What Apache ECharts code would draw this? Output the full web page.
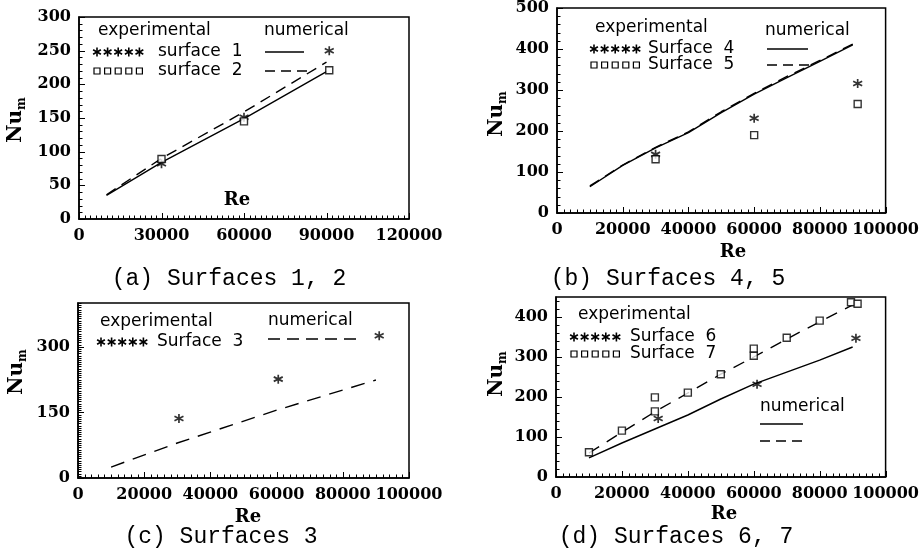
<!DOCTYPE html>
<html><head><meta charset="utf-8">
<script src="https://cdn.jsdelivr.net/npm/echarts@6/dist/echarts.min.js"></script>
<style>html,body{margin:0;padding:0;background:#fff}#c{width:922px;height:558px}</style>
</head><body><div id="c"></div>
<script>
// ---------- Panel (a): Surfaces 1, 2 ----------
const reA_exp = [30000, 60000, 91000];
const nuA_s1_exp = [82, 151, 250];
const nuA_s2_exp = [89, 145, 221];
const reA_num = [10000, 30000, 60000, 90000];
const nuA_s1_num = [35, 84, 149, 219];
const nuA_s2_num = [36, 90, 159, 233];
// ---------- Panel (b): Surfaces 4, 5 ----------
const reB_exp = [30000, 60000, 91500];
const nuB_s4_exp = [143, 231, 316];
const nuB_s5_exp = [131, 190, 266];
const reB_num = [10000, 20000, 30000, 40000, 50000, 60000, 70000, 80000, 90000];
const nuB_s4_num = [64, 116, 159, 196, 245, 290, 330, 370, 410];
const nuB_s5_num = [66, 117, 160, 198, 247, 292, 333, 372, 412];
// ---------- Panel (c): Surface 3 ----------
const reC_exp = [30500, 60500, 91000];
const nuC_s3_exp = [136, 226, 325];
const reC_num = [10000, 30000, 60000, 90000];
const nuC_s3_num = [25, 80, 155, 224];
// ---------- Panel (d): Surfaces 6, 7 ----------
const reD_s6_exp = [31000, 61000, 91000];
const nuD_s6_exp = [146, 232, 347];
const reD_s7_exp = [10000, 20000, 30000, 30000, 40000, 50000, 60000, 60000, 70000, 80000, 89500, 91500];
const nuD_s7_exp = [62, 116, 199, 164, 211, 257, 321, 303, 348, 391, 437, 433];
const reD_num = [10000, 20000, 30000, 40000, 50000, 60000, 70000, 80000, 90000];
const nuD_s6_num = [48, 85, 120, 155, 195, 232, 262, 292, 325];
const nuD_s7_num = [60, 112, 163, 210, 257, 300, 345, 388, 430];
// ---------- axis scales ----------
const xMax = [120000, 100000, 100000, 100000];
const xStep = [30000, 20000, 20000, 20000];
const xMinor = [15, 10, 10, 10];
const yMax = [300, 500, 400, 450];
const yStep = [50, 100, 150, 100];
const yMinor = [5, 5, 30, 5];
// ---------- texts ----------
const captions = ['(a) Surfaces 1, 2', '(b) Surfaces 4, 5', '(c) Surfaces 3', '(d) Surfaces 6, 7'];
const expHeader = 'experimental';
const numHeader = 'numerical';
const xName = 'Re';

const zip = (xs, ys) => xs.map((x, i) => [x, ys[i]]);
const STAR = 'path://M5,0L5,10M0.67,2.5L9.33,7.5M0.67,7.5L9.33,2.5';
const SERIF = 'DejaVu Serif';
const SANS = 'DejaVu Sans';

const grids = [
  {left: 79, top: 17, width: 330, height: 202},
  {left: 557, top: 7, width: 330, height: 206},
  {left: 78, top: 303, width: 331, height: 175},
  {left: 556, top: 297, width: 330, height: 180}
].map(g => Object.assign({show: true, borderColor: '#000', borderWidth: 1.5}, g));

const axisCommon = () => ({
  type: 'value', min: 0,
  axisLine: {show: true, lineStyle: {color: '#000', width: 1.5}},
  axisTick: {show: false}, minorTick: {show: false},
  splitLine: {show: false},
  axisLabel: {color: '#000', fontFamily: SERIF, fontWeight: 'bold', fontSize: 16, margin: 9,
    hideOverlap: false, formatter: v => String(v)}
});
const xAxes = [0, 1, 2, 3].map(i => Object.assign(axisCommon(), {gridIndex: i, max: xMax[i], interval: xStep[i]}));
const yAxes = [0, 1, 2, 3].map(i => {
  const a = Object.assign(axisCommon(), {gridIndex: i, max: yMax[i], interval: yStep[i]});
  a.axisLabel = Object.assign({}, a.axisLabel, {showMaxLabel: yMax[i] % yStep[i] === 0, margin: 8});
  return a;
});

const lineS = (i, xs, ys, dash) => ({
  type: 'line', xAxisIndex: i, yAxisIndex: i, data: zip(xs, ys), showSymbol: false, smooth: false,
  lineStyle: {color: '#000', width: 1.4, type: dash ? dash : 'solid'}, z: 3
});
const starS = (i, xs, ys) => ({
  type: 'scatter', xAxisIndex: i, yAxisIndex: i, data: zip(xs, ys), symbol: STAR, symbolSize: 9,
  itemStyle: {color: 'none', borderColor: '#000', borderWidth: 1.7}, z: 4
});
const sqS = (i, xs, ys) => ({
  type: 'scatter', xAxisIndex: i, yAxisIndex: i, data: zip(xs, ys), symbol: 'rect', symbolSize: 7,
  itemStyle: {color: '#fff', borderColor: '#000', borderWidth: 1.4}, z: 5
});

const series = [
  lineS(0, reA_num, nuA_s1_num), lineS(0, reA_num, nuA_s2_num, [11, 7]),
  starS(0, reA_exp, nuA_s1_exp), sqS(0, reA_exp, nuA_s2_exp),
  lineS(1, reB_num, nuB_s4_num), lineS(1, reB_num, nuB_s5_num, [11, 7]),
  starS(1, reB_exp, nuB_s4_exp), sqS(1, reB_exp, nuB_s5_exp),
  lineS(2, reC_num, nuC_s3_num, [14, 9]), starS(2, reC_exp, nuC_s3_exp),
  lineS(3, reD_num, nuD_s6_num), lineS(3, reD_num, nuD_s7_num, [12, 9]),
  starS(3, reD_s6_exp, nuD_s6_exp), sqS(3, reD_s7_exp, nuD_s7_exp)
];

// ---------- graphic (legends, axis names, captions) ----------
const G = [];
const txt = (text, x, y, o) => G.push({type: 'text', x: x, y: y, silent: true, style: Object.assign({
  text: text, fill: '#000', fontFamily: SANS, fontSize: 17, align: 'left', verticalAlign: 'middle'}, o || {})});
const hline = (x1, x2, y, dash) => G.push({type: 'line', silent: true, shape: {x1: x1, y1: y, x2: x2, y2: y},
  style: {stroke: '#000', lineWidth: 1.4, lineDash: dash || null}});
const starRow = (x0, y) => { for (let k = 0; k < 5; k++) { const cx = x0 + k * 10.6, r = 4.5;
  [[0, -r, 0, r], [-r * 0.87, -r / 2, r * 0.87, r / 2], [-r * 0.87, r / 2, r * 0.87, -r / 2]].forEach(s =>
    G.push({type: 'line', silent: true, shape: {x1: cx + s[0], y1: y + s[1], x2: cx + s[2], y2: y + s[3]}, style: {stroke: '#000', lineWidth: 1.6}}));
}};
const sqRow = (x0, y) => { for (let k = 0; k < 5; k++) G.push({type: 'rect', silent: true,
  shape: {x: x0 + k * 10.6 - 3, y: y - 3, width: 6, height: 6}, style: {fill: 'none', stroke: '#000', lineWidth: 1.2}}); };
const nuName = (x, y) => G.push({type: 'text', x: x, y: y, rotation: Math.PI / 2, silent: true, style: {
  text: '{n|Nu}{s|m}', align: 'center', verticalAlign: 'middle', fill: '#000',
  rich: {n: {fontFamily: SERIF, fontWeight: 'bold', fontSize: 20, lineHeight: 24, verticalAlign: 'middle'},
         s: {fontFamily: SERIF, fontWeight: 'bold', fontSize: 12, lineHeight: 24, verticalAlign: 'bottom'}}}});
const reName = (x, y) => txt(xName, x, y, {fontFamily: SERIF, fontWeight: 'bold', fontSize: 18, align: 'center'});
const cap = (t, x, y) => txt(t, x, y, {fontFamily: 'Liberation Mono', fontSize: 23, align: 'center'});

// (a)
txt(expHeader, 98, 31); txt(numHeader, 264, 31);
starRow(97, 52); txt('surface  1', 158, 52); hline(265, 304, 52);
sqRow(97, 71); txt('surface  2', 158, 71); hline(265, 313, 71, [10, 6]);
reName(237, 200); nuName(16, 120); cap(captions[0], 229, 279);
// (b)
txt(expHeader, 595, 28); txt(numHeader, 765, 31);
starRow(594, 49); txt('Surface  4', 648, 49); hline(767, 808, 49);
sqRow(594, 65); txt('Surface  5', 648, 65); hline(767, 812, 65, [10, 6]);
reName(733, 252); nuName(497, 114); cap(captions[1], 668, 279);
// (c)
txt(expHeader, 100, 322); txt(numHeader, 268, 321);
starRow(101, 342); txt('Surface  3', 157, 342); hline(268, 357, 339, [12, 7]);
reName(248, 517); nuName(17, 372); cap(captions[2], 221, 537);
// (d)
txt(expHeader, 578, 315);
starRow(574, 337); txt('Surface  6', 630, 337);
sqRow(574, 354); txt('Surface  7', 630, 354);
txt(numHeader, 760, 407); hline(760, 803, 424); hline(760, 803, 441, [10, 6]);
reName(724, 514); nuName(497, 374); cap(captions[3], 676, 537);

const chart = echarts.init(document.getElementById('c'), null, {renderer: 'canvas'});
chart.setOption({
  animation: false, backgroundColor: '#fff',
  grid: grids, xAxis: xAxes, yAxis: yAxes, series: series, graphic: G
});

// inward major/minor tick marks, positioned through each grid's axis scales
const T = [];
[0, 1, 2, 3].forEach(i => {
  const dx = xStep[i] / xMinor[i];
  for (let k = 0; k * dx <= xMax[i] + 1e-6; k++) {
    const p = chart.convertToPixel({gridIndex: i}, [k * dx, 0]);
    const len = k % xMinor[i] === 0 ? 6 : 3.5;
    const x = Math.round(p[0]) + 0.5;
    T.push({type: 'line', silent: true, z: 10, shape: {x1: x, y1: p[1], x2: x, y2: p[1] - len}, style: {stroke: '#000', lineWidth: 1}});
  }
  const dy = yStep[i] / yMinor[i];
  for (let k = 0; k * dy <= yMax[i] + 1e-6; k++) {
    const p = chart.convertToPixel({gridIndex: i}, [0, k * dy]);
    const len = k % yMinor[i] === 0 ? 6 : 3.5;
    const y = Math.round(p[1]) + 0.5;
    T.push({type: 'line', silent: true, z: 10, shape: {x1: p[0], y1: y, x2: p[0] + len, y2: y}, style: {stroke: '#000', lineWidth: 1}});
  }
});
chart.setOption({graphic: G.concat(T)});
</script></body></html>
